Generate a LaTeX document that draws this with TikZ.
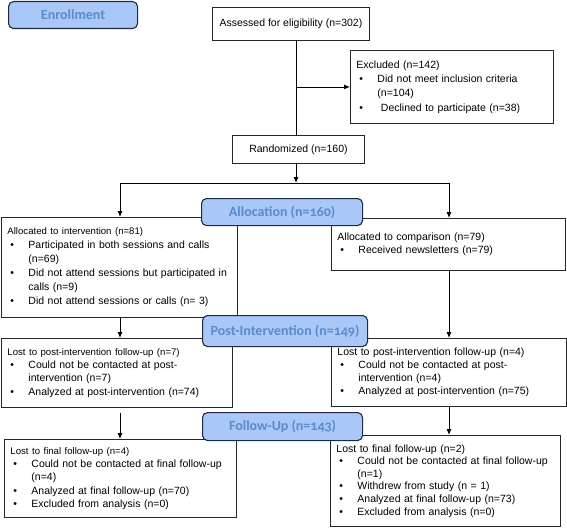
\documentclass[tikz,border=0pt]{standalone}
\usepackage{fontspec}
\setmainfont{Liberation Sans}
\newfontfamily\phasefont[Numbers=OldStyle]{Carlito}
\usetikzlibrary{arrows.meta}
\definecolor{phasefill}{HTML}{A9C7F7}
\definecolor{phasetext}{HTML}{5A8BCB}
\definecolor{phaseline}{HTML}{1E2A40}
\newcommand\bul{\makebox[21pt][l]{\hspace{3pt}\textbullet}}
\newcommand\ind{\hspace*{21pt}}
\newcommand\lefthead[1]{{\fontsize{9.6}{13.2}\selectfont #1}}

\begin{document}
\begin{tikzpicture}[x=1pt, y=-1pt,
  box/.style 2 args={draw=black!85, line width=0.9pt, anchor=north west,
    align=left, inner xsep=6pt, inner ysep=3pt, text width=#1, minimum height=#2,
    font=\fontsize{10.5}{13.2}\selectfont},
  single/.style 2 args={draw=black!85, line width=0.9pt, anchor=north west,
    minimum width=#1, minimum height=#2, inner sep=0pt,
    font=\fontsize{10.5}{13}\selectfont},
  phase/.style 2 args={draw=phaseline, line width=1.1pt, rounded corners=5pt,
    fill=phasefill, text=phasetext, anchor=north west, inner sep=0pt,
    minimum width=#1, minimum height=#2,
    font=\phasefont\bfseries\fontsize{14}{16}\selectfont},
  flow/.style={line width=0.9pt, -{Latex[length=6pt,width=5pt]}}
  ]
  \fill[white] (0,0) rectangle (567,527);
  \useasboundingbox (0,0) rectangle (567,527);

  \node[single={157pt}{33pt}] (assess) at (212,7) {Assessed for eligibility (n=302)};
  \node[box={191pt}{73pt}, font=\fontsize{10.5}{14.3}\selectfont] (excl) at (350,50)
    {Excluded (n=142)\\
     \bul Did not meet inclusion criteria\\
     \ind (n=104)\\
     \bul\ Declined to participate (n=38)};
  \node[single={132pt}{28pt}] (rand) at (232,135) {Randomized (n=160)};

  \node[box={224pt}{100pt}, font=\fontsize{10.5}{14}\selectfont] (lalloc) at (1,217)
    {\lefthead{Allocated to intervention (n=81)}\\
     \bul Participated in both sessions and calls\\
     \ind (n=69)\\
     \bul Did not attend sessions but participated in\\
     \ind calls (n=9)\\
     \bul Did not attend sessions or calls (n= 3)};
  \node[box={222pt}{52pt}] (ralloc) at (331,218)
    {Allocated to comparison (n=79)\\
     \bul Received newsletters (n=79)\\[6pt]};

  \node[box={219pt}{69pt}] (llost) at (1,338)
    {\lefthead{Lost to post-intervention follow-up (n=7)}\\
     \bul Could not be contacted at post-\\
     \ind intervention (n=7)\\
     \bul Analyzed at post-intervention (n=74)};
  \node[box={223pt}{68pt}] (rlost) at (331,338)
    {Lost to post-intervention follow-up (n=4)\\
     \bul Could not be contacted at post-\\
     \ind intervention (n=4)\\
     \bul Analyzed at post-intervention (n=75)};

  \node[box={220pt}{78pt}] (lfinal) at (4,439)
    {\lefthead{Lost to final follow-up (n=4)}\\
     \bul Could not be contacted at final follow-up\\
     \ind (n=4)\\
     \bul Analyzed at final follow-up (n=70)\\
     \bul Excluded from analysis (n=0)};
  \node[box={218pt}{91pt}, font=\fontsize{10.5}{12.6}\selectfont] (rfinal) at (330,435)
    {Lost to final follow-up (n=2)\\
     \bul Could not be contacted at final follow-up\\
     \ind (n=1)\\
     \bul Withdrew from study (n = 1)\\
     \bul Analyzed at final follow-up (n=73)\\
     \bul Excluded from analysis (n=0)};

  \coordinate (spine) at (296,0);
  \coordinate (split) at (296,183);
  \coordinate (lsplit) at (120,183);
  \coordinate (rsplit) at (449,183);
  \draw[line width=0.9pt] (assess.south -| spine) -- (rand.north -| spine);
  \draw[flow] (spine |- excl.west) -- (excl.west);
  \draw[flow] (rand.south -| split) -- (split);
  \draw[line width=0.9pt] (lsplit) -- (rsplit);
  \draw[flow] (lsplit) -- (lsplit |- lalloc.north);
  \draw[flow] (rsplit) -- (rsplit |- ralloc.north);
  \draw[flow] (lalloc.south -| lsplit) -- (llost.north -| lsplit);
  \draw[flow] (ralloc.south -| rsplit) -- (rlost.north -| rsplit);
  \draw[flow, shorten <=5pt] (llost.south -| lsplit) -- (lfinal.north -| lsplit);
  \draw[flow] (rlost.south -| rsplit) -- (rfinal.north -| rsplit);

  \node[phase={129pt}{27pt}] (enroll) at (8,1) {Enrollment};
  \node[phase={161pt}{27pt}] (alloc) at (201,198) {Allocation (n=160)};
  \node[phase={165pt}{31pt}] (post) at (202,315) {Post-Intervention (n=149)};
  \node[phase={160pt}{28pt}] (follow) at (202,412) {Follow-Up (n=143)};
\end{tikzpicture}
\end{document}
